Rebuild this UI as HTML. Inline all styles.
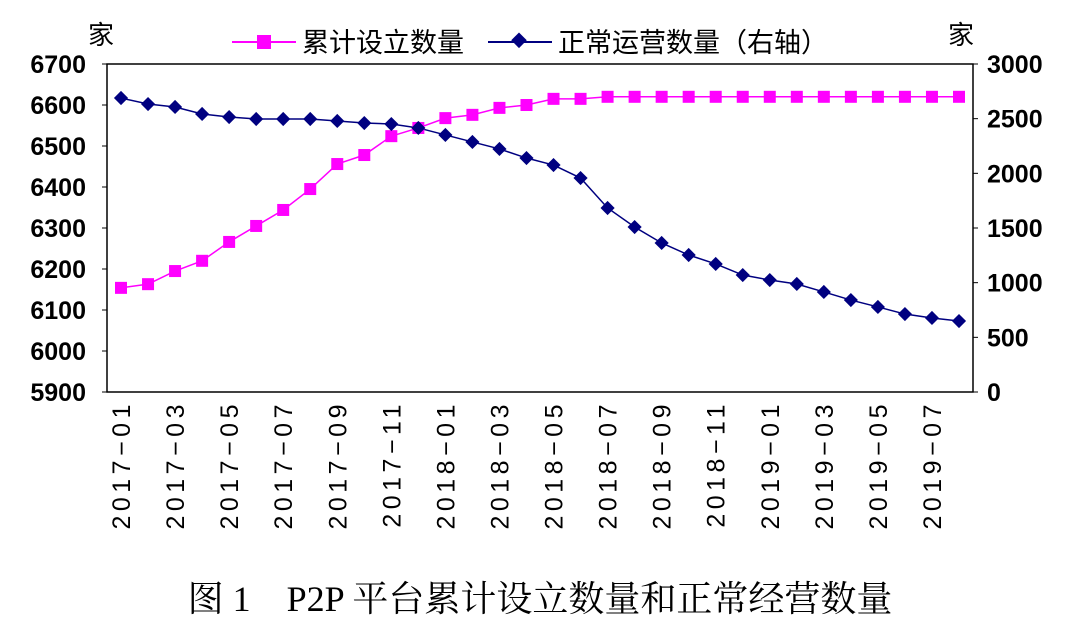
<!DOCTYPE html>
<html><head><meta charset="utf-8"><style>
body{margin:0;background:#fff;width:1080px;height:630px;overflow:hidden}
svg text{font-family:"Liberation Sans","Noto Sans CJK SC",sans-serif}
</style></head><body>
<svg id="c" width="1080" height="630">
<text x="88" y="44" font-size="26">家</text>
<text x="948" y="44" font-size="26">家</text>
<g>
<line x1="232" y1="42" x2="296" y2="42" stroke="#ff00ff" stroke-width="2"/>
<rect x="257" y="35" width="14" height="14" fill="#ff00ff"/>
<text x="302" y="52" font-size="27">累计设立数量</text>
<line x1="488" y1="42" x2="552" y2="42" stroke="#000080" stroke-width="2"/>
<rect x="513" y="35" width="11" height="11" fill="#000080" transform="rotate(45 519 41)"/>
<text x="558" y="52" font-size="27">正常运营数量（右轴）</text>
</g>
<rect x="107" y="64" width="866" height="328" fill="none" stroke="#000" stroke-width="1.5"/>
<g id="g"></g>
<text x="540" y="611" text-anchor="middle" font-size="36" style="font-family:'Liberation Serif','Noto Serif CJK SC',serif">图 1　P2P 平台累计设立数量和正常经营数量</text>
</svg>
<script>
const months=["2017-01","2017-02","2017-03","2017-04","2017-05","2017-06","2017-07","2017-08","2017-09","2017-10","2017-11","2017-12","2018-01","2018-02","2018-03","2018-04","2018-05","2018-06","2018-07","2018-08","2018-09","2018-10","2018-11","2018-12","2019-01","2019-02","2019-03","2019-04","2019-05","2019-06","2019-07","2019-08"];
const cumulative=[6154,6163,6195,6220,6266,6305,6344,6395,6456,6478,6524,6544,6568,6576,6593,6600,6615,6615,6620,6620,6620,6620,6620,6620,6620,6620,6620,6620,6620,6620,6620,6620];
const operating=[2689,2634,2607,2543,2515,2497,2497,2497,2479,2460,2451,2415,2351,2287,2223,2140,2076,1957,1683,1509,1363,1253,1171,1070,1024,988,915,841,778,713,677,649];
const leftTicks=[5900,6000,6100,6200,6300,6400,6500,6600,6700];
const rightTicks=[0,500,1000,1500,2000,2500,3000];
const NS="http://www.w3.org/2000/svg",g=document.getElementById('g');
const X=i=>121+i*(959-121)/(months.length-1);
const YL=v=>392-(v-5900)/800*328;
const YR=v=>392-v/3000*328;
function el(t,a,txt){const e=document.createElementNS(NS,t);for(const k in a)e.setAttribute(k,a[k]);if(txt!=null)e.textContent=txt;g.appendChild(e);return e;}
leftTicks.forEach(v=>{const t=el('text',{x:86,y:YL(v)+9,'text-anchor':'end','font-size':25,'font-weight':'bold'},v);


el('line',{x1:102,x2:107,y1:YL(v),y2:YL(v),stroke:'#000'});});
rightTicks.forEach(v=>{const t=el('text',{x:987,y:YR(v)+9,'font-size':25,'font-weight':'bold'},v);


el('line',{x1:973,x2:978,y1:YR(v),y2:YR(v),stroke:'#000'});});
months.forEach((m,i)=>{if(i%2)return;const x=X(i);
const t=el('text',{x:0,y:0,'font-size':25,'letter-spacing':'4.5','text-anchor':'end',transform:`translate(${x+9},400) rotate(-90)`},m.replace('-','−'));

});
const p1=el('polyline',{points:cumulative.map((v,i)=>X(i)+','+YL(v)).join(' '),fill:'none',stroke:'#ff00ff','stroke-width':1.5});


const p2=el('polyline',{points:operating.map((v,i)=>X(i)+','+YR(v)).join(' '),fill:'none',stroke:'#000080','stroke-width':1.5});


cumulative.forEach((v,i)=>{const r=el('rect',{x:X(i)-6,y:YL(v)-6,width:12,height:12,fill:'#ff00ff'});

});
operating.forEach((v,i)=>{const r=el('rect',{x:X(i)-5,y:YR(v)-5,width:10,height:10,fill:'#000080',transform:`rotate(45 ${X(i)} ${YR(v)})`});

});
</script>
</body></html>
